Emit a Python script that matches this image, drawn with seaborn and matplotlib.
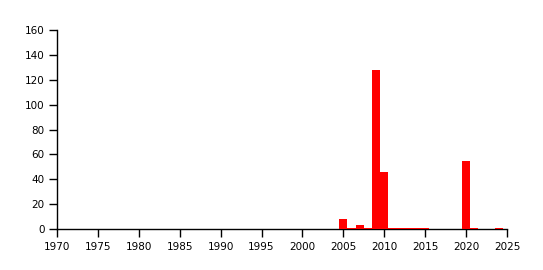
import matplotlib
matplotlib.use("Agg")
import matplotlib.pyplot as plt
import seaborn as sns
import pandas as pd

years = [2005, 2006, 2007, 2008, 2009, 2010, 2011, 2012, 2013, 2014, 2015, 2020, 2021, 2024]
counts = [8, 0.6, 3, 0.6, 128, 46, 0.6, 0.6, 0.6, 0.6, 0.6, 55, 0.6, 0.6]
xticks = list(range(1970, 2026, 5))
yticks = list(range(0, 161, 20))

df = pd.DataFrame({"year": years, "count": counts})

sns.set_style("white")
plt.rcParams['font.family'] = ['DejaVu Sans']

fig = plt.figure(figsize=(5.43, 2.70), dpi=100)
ax = fig.add_axes([57/543, 41/270, 450/543, 199/270])

sns.histplot(data=df, x="year", weights="count", discrete=True, color="#ff0000",
             alpha=1, linewidth=0, edgecolor="none", ax=ax)
for p in ax.patches:
    p.set_zorder(3)

ax.set_xlim(1970, 2025)
ax.set_ylim(0, 160)
ax.set_xticks(xticks)
ax.set_yticks(yticks)
ax.set_xticklabels([str(t) for t in xticks], fontsize=7.5, color="black")
ax.set_yticklabels([str(t) for t in yticks], fontsize=7.5, color="black")
ax.set_xlabel("")
ax.set_ylabel("")
for s in ["top", "right"]:
    ax.spines[s].set_visible(False)
for s in ["left", "bottom"]:
    ax.spines[s].set_color("black")
    ax.spines[s].set_linewidth(1)
ax.tick_params(axis="both", direction="out", length=6, width=1, color="black",
               bottom=True, left=True, pad=3)
ax.grid(False)

fig.savefig("out.png", dpi=100)
